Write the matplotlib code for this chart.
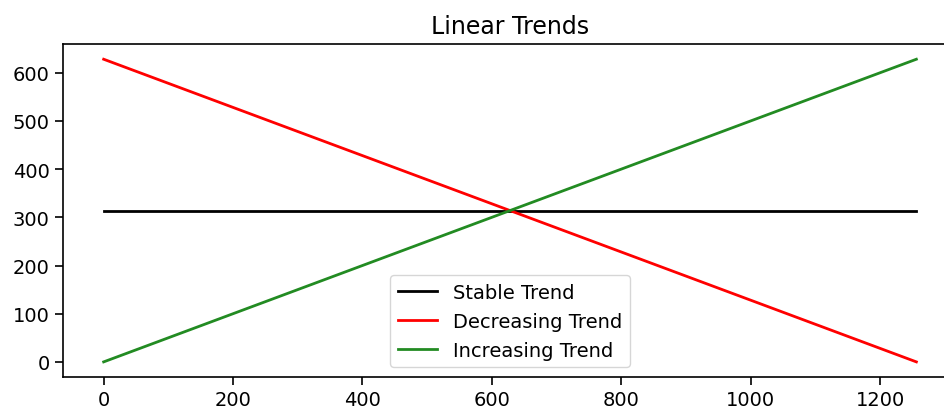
import matplotlib
matplotlib.use("Agg")
import matplotlib.pyplot as plt

# =============================
# DATA
# =============================
x_ends = [0, 1256]
stable = [314, 314]
decreasing = [628, 0]
increasing = [0, 628]

labels = ["Stable Trend", "Decreasing Trend", "Increasing Trend"]
colors = ["black", "red", "forestgreen"]


# =============================
# PLOT
# =============================
def main():
    fig = plt.figure(figsize=(9.45, 4.1), dpi=100)
    # right edge of the axes sits just past the figure edge (cropped in the reference)
    ax = fig.add_axes([0.0667, 0.078, 0.946, 0.812])

    for ys, lab, c in zip([stable, decreasing, increasing], labels, colors):
        ax.plot(x_ends, ys, color=c, label=lab, linewidth=2.0)

    for sp in ax.spines.values():
        sp.set_linewidth(1.2)
    ax.spines["right"].set_visible(False)

    ax.set_title("Linear Trends", fontsize=17, pad=8)
    ax.tick_params(labelsize=14, length=6, width=1.2)
    ax.legend(loc="lower center", fontsize=14)

    fig.savefig("out.png", dpi=100)


if __name__ == "__main__":
    main()
